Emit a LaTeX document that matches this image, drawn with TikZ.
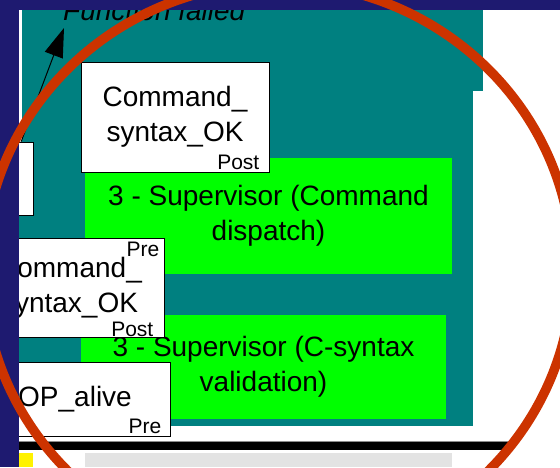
\documentclass[tikz,border=0pt]{standalone}
\usepackage{fontspec}
\setmainfont{Liberation Sans}
\usetikzlibrary{arrows.meta}
\definecolor{navy}{RGB}{30,26,112}
\definecolor{tealc}{RGB}{0,128,128}
\definecolor{lime}{RGB}{0,255,0}
\definecolor{ring}{RGB}{204,51,0}
\definecolor{lightgrey}{RGB}{227,227,227}
\begin{document}
\begin{tikzpicture}[x=1pt,y=-1pt,
  big/.style={font=\fontsize{28}{35}\selectfont},
  small/.style={font=\fontsize{21}{24}\selectfont, inner sep=0pt},
  wbox/.style={draw=black, line width=1pt, fill=white, inner sep=0pt, align=center, big},
  gbox/.style={fill=lime, inner sep=0pt, align=center, big},
]
\useasboundingbox (0,0) rectangle (560,467);
\clip (0,0) rectangle (560,467);
\fill[white] (0,0) rectangle (560,467);
% teal panel
\fill[tealc] (19,10) rectangle (483,91);
\fill[tealc] (19,91) rectangle (473,426);
\fill[white] (19,10) rectangle (22,142);
% green boxes
\node[gbox, minimum width=367pt, minimum height=116pt] (disp) at (268.5,215.5) {3 - Supervisor (Command\\dispatch)};
\node[gbox, minimum width=365pt, minimum height=104pt] (valid) at (263.5,367) {3 - Supervisor (C-syntax\\validation)};
% white boxes
\node[wbox, minimum width=43pt, minimum height=73pt] (leftbox) at (11.5,178.5) {};
\node[wbox, minimum width=188pt, minimum height=110pt] (cmdA) at (175,117) {Command\_\\syntax\_OK};
\node[wbox, minimum width=189pt, minimum height=99pt] (cmdB) at (69.5,287.5) {Command\_\\syntax\_OK};
\node[wbox, minimum width=190pt, minimum height=74pt] (alive) at (75,399) {OP\_alive};
% pre/post labels
\node[small, anchor=base east, xshift=-10pt, yshift=3pt] (postA) at (cmdA.south east) {Post};
\node[small, anchor=base east, xshift=-5pt, yshift=-19pt] (preB) at (cmdB.north east) {Pre};
\node[small, anchor=base east, xshift=-11pt, yshift=1pt] (postB) at (cmdB.south east) {Post};
\node[small, anchor=base east, xshift=-9pt, yshift=3pt] (preC) at (alive.south east) {Pre};
% arrow to "Function failed"
\node[font=\fontsize{28}{35}\selectfont\itshape, anchor=base west, inner sep=0pt] (ff) at (63,20.5) {Function failed};
\coordinate (tail) at (21,142);
\coordinate (tip) at (64,28);
\draw[line width=1pt, -{Triangle[length=29pt,width=19pt]}] (tail) -- (tip);
% navy frame
\fill[navy] (0,0) rectangle (19,467);
\fill[navy] (0,0) rectangle (560,10);
% bottom rule and strip
\fill[black!45] (19,440.5) rectangle (511,441.8);
\fill[black] (19,442) rectangle (511,449.5);
\fill[yellow] (19,453) rectangle (33,467);
\fill[lightgrey] (85,453) rectangle (452,467);
% magnifier ring
\draw[ring, line width=9.5pt] (278,270) ellipse [x radius=294.5, y radius=287];
\end{tikzpicture}
\end{document}
